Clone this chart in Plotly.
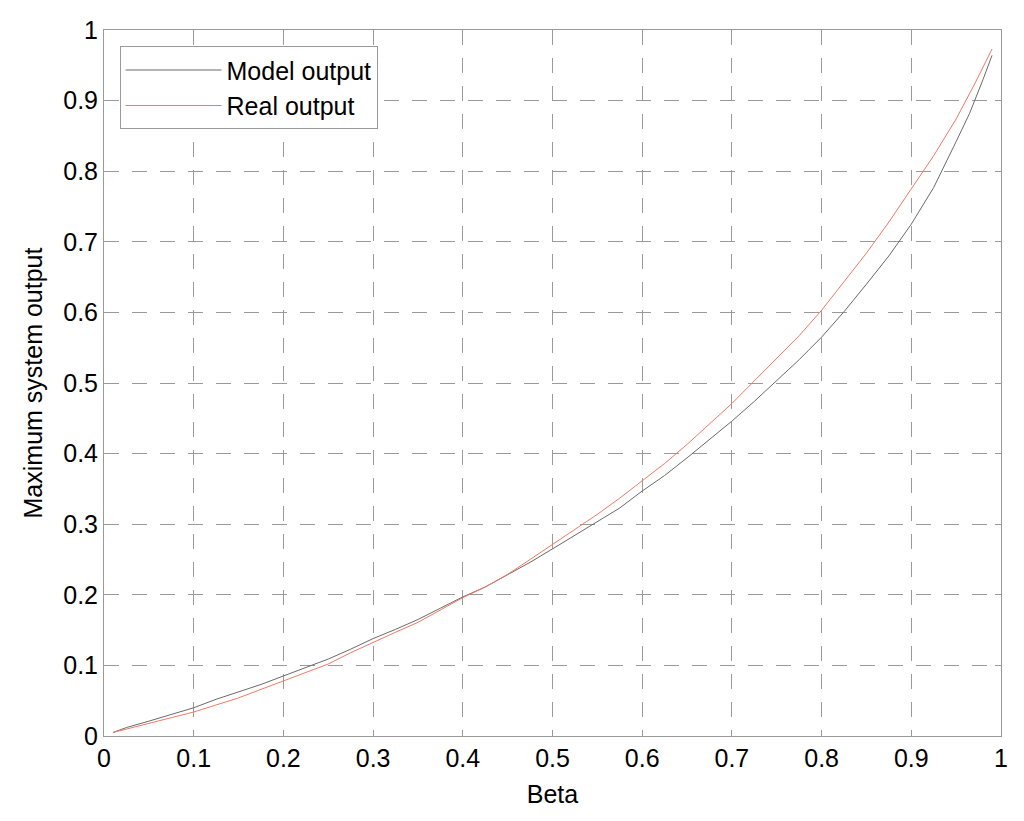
import plotly.graph_objects as go

beta_model = [0.01, 0.025, 0.05, 0.075, 0.10, 0.125, 0.15, 0.175, 0.20, 0.225, 0.25, 0.275, 0.30,
              0.325, 0.35, 0.375, 0.40, 0.425, 0.45, 0.475, 0.50, 0.525, 0.55, 0.575, 0.60,
              0.625, 0.65, 0.675, 0.70, 0.725, 0.75, 0.775, 0.80, 0.825, 0.85, 0.875, 0.90,
              0.925, 0.95, 0.965, 0.98, 0.99]
model_output = [0.005, 0.012, 0.021, 0.031, 0.040, 0.052, 0.062, 0.073, 0.085, 0.097, 0.109, 0.123, 0.138,
                0.151, 0.165, 0.181, 0.197, 0.211, 0.228, 0.246, 0.265, 0.284, 0.303, 0.323, 0.347,
                0.369, 0.394, 0.420, 0.446, 0.474, 0.503, 0.533, 0.565, 0.601, 0.640, 0.680, 0.725,
                0.777, 0.842, 0.882, 0.930, 0.964]

beta_real = [0.01, 0.025, 0.05, 0.075, 0.10, 0.125, 0.15, 0.175, 0.20, 0.225, 0.25, 0.275, 0.30,
             0.325, 0.35, 0.375, 0.40, 0.425, 0.45, 0.475, 0.50, 0.525, 0.55, 0.575, 0.60,
             0.625, 0.65, 0.675, 0.70, 0.725, 0.75, 0.775, 0.80, 0.825, 0.85, 0.875, 0.90,
             0.925, 0.95, 0.97, 0.99]
real_output = [0.005, 0.010, 0.018, 0.026, 0.034, 0.044, 0.054, 0.066, 0.078, 0.091, 0.102, 0.118, 0.133,
               0.147, 0.161, 0.178, 0.196, 0.211, 0.229, 0.250, 0.271, 0.292, 0.314, 0.337, 0.362,
               0.386, 0.413, 0.442, 0.471, 0.503, 0.535, 0.567, 0.603, 0.643, 0.684, 0.728, 0.775,
               0.822, 0.874, 0.922, 0.973]

tick_vals = [0, 0.1, 0.2, 0.3, 0.4, 0.5, 0.6, 0.7, 0.8, 0.9, 1]
tick_text = ["0", "0.1", "0.2", "0.3", "0.4", "0.5", "0.6", "0.7", "0.8", "0.9", "1"]

FONT = "Liberation Sans, Arial, sans-serif"

fig = go.Figure()
fig.add_trace(go.Scatter(x=beta_model, y=model_output, mode="lines", name="Model output",
                         line=dict(color="#6a6a6a", width=1)))
fig.add_trace(go.Scatter(x=beta_real, y=real_output, mode="lines", name="Real output",
                         line=dict(color="#f07a64", width=1)))

axis_common = dict(
    showline=True, linecolor="#999999", linewidth=1, mirror="ticks",
    ticks="inside", ticklen=6, tickcolor="#999999",
    showgrid=True, gridcolor="#9a9a9a", gridwidth=1, griddash="15px,13px",
    zeroline=False, tickvals=tick_vals, ticktext=tick_text,
    tickfont=dict(family=FONT, size=25, color="#000"),
    range=[0, 1], automargin=False,
)

fig.update_layout(
    width=1016, height=813,
    margin=dict(l=96, r=23, t=22, b=85),
    paper_bgcolor="white", plot_bgcolor="white",
    font=dict(family=FONT, color="#000"),
    xaxis=dict(**axis_common, title=dict(text="Beta", font=dict(size=25), standoff=14)),
    yaxis=dict(**axis_common, title=dict(text="Maximum system output", font=dict(size=25), standoff=13)),
    legend=dict(x=0.0173, y=0.977, xanchor="left", yanchor="top",
                bgcolor="white", bordercolor="#999999", borderwidth=1,
                font=dict(size=25, color="#000"), itemwidth=96,
                tracegroupgap=0),
    showlegend=True,
)

fig.write_html("out.html")
